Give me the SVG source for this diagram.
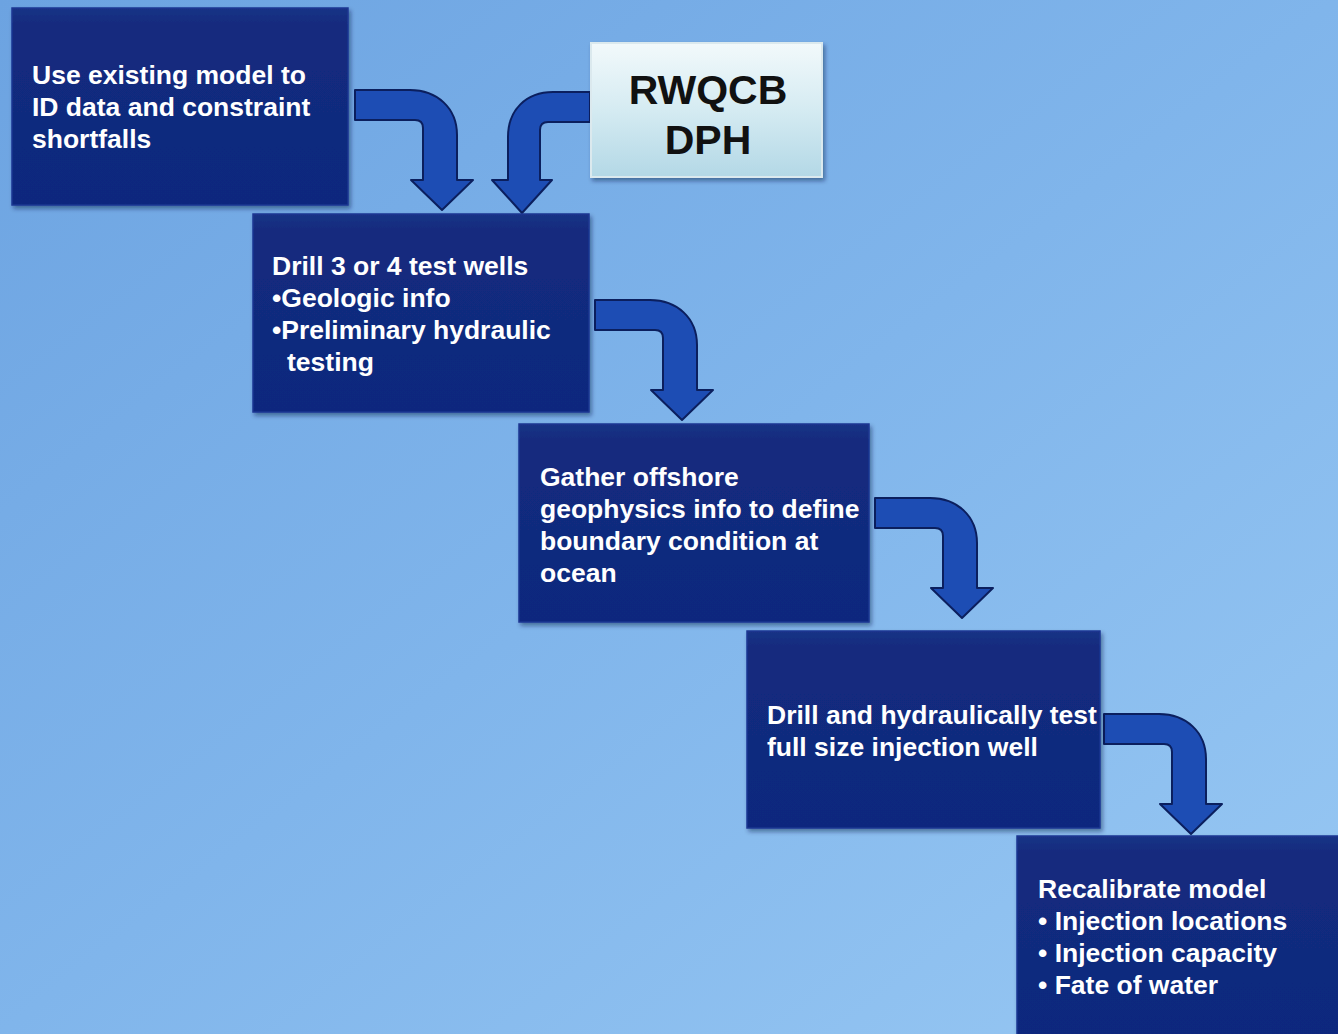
<svg xmlns="http://www.w3.org/2000/svg" width="1338" height="1034" viewBox="0 0 1338 1034">
<defs>
<linearGradient id="bg" x1="0" y1="0" x2="1" y2="1">
<stop offset="0" stop-color="#6ca3e1"/>
<stop offset="0.5" stop-color="#80b5eb"/>
<stop offset="1" stop-color="#98c8f3"/>
</linearGradient>
<linearGradient id="navy" x1="0" y1="0" x2="0" y2="1">
<stop offset="0" stop-color="#1a3386"/>
<stop offset="0.08" stop-color="#132b7e"/>
<stop offset="1" stop-color="#0f287e"/>
</linearGradient>
<linearGradient id="light" x1="0" y1="0" x2="0" y2="1">
<stop offset="0" stop-color="#f2f9fb"/>
<stop offset="0.5" stop-color="#d5ebf2"/>
<stop offset="1" stop-color="#b3d8e6"/>
</linearGradient>
<filter id="sh" x="-5%" y="-5%" width="112%" height="115%">
<feDropShadow dx="2" dy="3" stdDeviation="2" flood-color="#0a1a40" flood-opacity="0.45"/>
</filter>
<path id="arr" d="M0,0 L55,0 C82,0 102,18 102,45 L102,90 L118,90 L87,120 L56,90 L68,90 L68,38 Q68,30 60,30 L0,30 Z"/>
</defs>
<style>
.box{fill:url(#navy);stroke:#1c3792;stroke-width:1.5;filter:url(#sh)}
.lbox{fill:url(#light);stroke:#dbe9ee;stroke-width:2;filter:url(#sh)}
.t{font-family:"Liberation Sans",Arial,sans-serif;font-weight:bold;font-size:26.5px;fill:#ffffff}
.tb{font-family:"Liberation Sans",Arial,sans-serif;font-weight:bold;font-size:41px;fill:#111111;text-anchor:middle}
.a{fill:#1d4db4;stroke:#0b1f5e;stroke-width:2;stroke-linejoin:round}
</style>
<rect width="1338" height="1034" fill="url(#bg)"/>

<g id="connectors">
<use href="#arr" class="a" transform="translate(355,90)"/>
<path class="a" d="M590,92 L553,92 C526,92 508,110 508,137 L508,180 L492,180 L522,213 L552,180 L540,180 L540,130 Q540,122 548,122 L590,122 Z"/>
<use href="#arr" class="a" transform="translate(595,300)"/>
<use href="#arr" class="a" transform="translate(875,498)"/>
<use href="#arr" class="a" transform="translate(1104,714)"/>
</g>

<g id="node-use-model">
<rect class="box" x="12" y="8" width="336" height="197"/>
<text class="t" x="32" y="84">Use existing model to</text>
<text class="t" x="32" y="116">ID data and constraint</text>
<text class="t" x="32" y="148">shortfalls</text>
</g>

<g id="node-rwqcb">
<rect class="lbox" x="591" y="43" width="231" height="134"/>
<text class="tb" x="708" y="104">RWQCB</text>
<text class="tb" x="708" y="154">DPH</text>
</g>

<g id="node-test-wells">
<rect class="box" x="253" y="214" width="336" height="198"/>
<text class="t" x="272" y="275">Drill 3 or 4 test wells</text>
<text class="t" x="272" y="307">•Geologic info</text>
<text class="t" x="272" y="339">•Preliminary hydraulic</text>
<text class="t" x="287" y="371">testing</text>
</g>

<g id="node-geophysics">
<rect class="box" x="519" y="424" width="350" height="198"/>
<text class="t" x="540" y="486">Gather offshore</text>
<text class="t" x="540" y="518">geophysics info to define</text>
<text class="t" x="540" y="550">boundary condition at</text>
<text class="t" x="540" y="582">ocean</text>
</g>

<g id="node-injection-well">
<rect class="box" x="747" y="631" width="353" height="197"/>
<text class="t" x="767" y="724">Drill and hydraulically test</text>
<text class="t" x="767" y="756">full size injection well</text>
</g>

<g id="node-recalibrate">
<rect class="box" x="1017" y="836" width="330" height="210"/>
<text class="t" x="1038" y="898">Recalibrate model</text>
<text class="t" x="1038" y="930">• Injection locations</text>
<text class="t" x="1038" y="962">• Injection capacity</text>
<text class="t" x="1038" y="994">• Fate of water</text>
</g>
</svg>
